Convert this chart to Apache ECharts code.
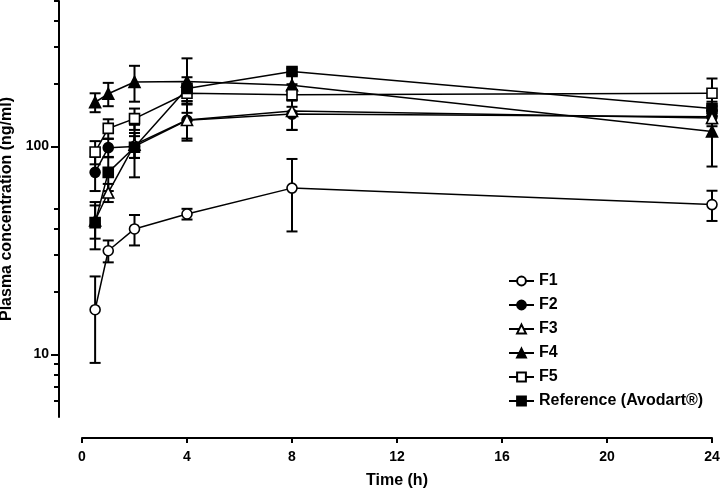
<!DOCTYPE html>
<html>
<head>
<meta charset="utf-8">
<script src="https://cdn.jsdelivr.net/npm/echarts@6/dist/echarts.min.js"></script>
<style>
html,body{margin:0;padding:0;background:#fff;}
#chart{width:722px;height:489px;}
</style>
</head>
<body>
<div id="chart"></div>
<script>
// ---- data ----
const times = [0.5, 1, 2, 4, 8, 24];
const f1 = [16.4, 31.5, 40.1, 47.3, 63, 52.5];
const f1Sd = [7.3, 3.8, 6.7, 2.8, 24, 8.7];
const f2 = [75, 98.6, 100, 133.5, 143, 139];
const f2Sd = [14, 10, 12, 27, 23, 10];
const f3 = [44, 60, 102, 134, 148, 137];
const f3Sd = [8, 6, 14, 25, 28, 12];
const f4 = [163, 179, 204, 205, 197, 118];
const f4Sd = [17, 23, 40, 60, 30, 38];
const f5 = [94, 122, 136, 180, 177, 180];
const f5Sd = [12, 13, 16, 15, 22, 32];
const ref = [43, 75, 99, 190, 229, 152];
const refSd = [11, 14, 28, 25, 8, 12];
const seriesNames = ['F1', 'F2', 'F3', 'F4', 'F5', 'Reference (Avodart\u00AE)'];
const yMajorTicks = [10, 100];
const yMinorTicks = [6, 7, 8, 9, 20, 30, 40, 50, 200, 300, 400, 500];

const FONT = 'Liberation Sans, Arial, sans-serif';
const styles = [
  {symbol: 'circle', fill: '#fff', size: 10},
  {symbol: 'circle', fill: '#000', size: 10},
  {symbol: 'triangle', fill: '#fff', size: 11},
  {symbol: 'triangle', fill: '#000', size: 11},
  {symbol: 'rect', fill: '#fff', size: 10},
  {symbol: 'rect', fill: '#000', size: 10}
];
const means = [f1, f2, f3, f4, f5, ref];
const sds = [f1Sd, f2Sd, f3Sd, f4Sd, f5Sd, refSd];

const series = [];
means.forEach((m, i) => {
  series.push({
    name: seriesNames[i] + ' SD',
    type: 'custom',
    z: 1,
    clip: false,
    data: times.map((t, j) => [t, m[j], sds[i][j]]),
    renderItem: function (params, api) {
      const x = api.value(0), y = api.value(1), s = api.value(2);
      const top = api.coord([x, y + s]);
      const lowV = Math.max(y - s, 5);
      const bot = api.coord([x, lowV]);
      const hw = 5.5;
      const st = {stroke: '#000', lineWidth: 2};
      const children = [
        {type: 'line', shape: {x1: top[0], y1: top[1], x2: bot[0], y2: bot[1]}, style: st},
        {type: 'line', shape: {x1: top[0] - hw, y1: top[1], x2: top[0] + hw, y2: top[1]}, style: st}
      ];
      if (y - s > 5) children.push({type: 'line', shape: {x1: bot[0] - hw, y1: bot[1], x2: bot[0] + hw, y2: bot[1]}, style: st});
      return {type: 'group', children: children};
    }
  });
});
means.forEach((m, i) => {
  series.push({
    name: seriesNames[i],
    type: 'line',
    z: 3,
    clip: false,
    symbol: styles[i].symbol,
    symbolSize: styles[i].size,
    showAllSymbol: true,
    data: times.map((t, j) => [t, m[j]]),
    lineStyle: {color: '#000', width: 1.5},
    itemStyle: {color: styles[i].fill, borderColor: '#000', borderWidth: 1.6, opacity: 1},
    emphasis: {disabled: true},
    animation: false
  });
});

const chart = echarts.init(document.getElementById('chart'));
chart.setOption({
  animation: false,
  backgroundColor: '#fff',
  grid: {left: 82, right: 10, top: 1, bottom: 72, outerBoundsMode: 'none', containLabel: false},
  legend: {
    data: seriesNames,
    orient: 'vertical',
    left: 503,
    top: 268,
    itemWidth: 25,
    itemHeight: 11,
    itemGap: 8,
    textStyle: {fontFamily: FONT, fontWeight: 'bold', fontSize: 16, color: '#000'},
    selectedMode: false
  },
  xAxis: {
    type: 'value', min: 0, max: 24, interval: 4, offset: 21,
    name: 'Time (h)', nameLocation: 'middle', nameGap: 35,
    nameTextStyle: {fontFamily: FONT, fontWeight: 'bold', fontSize: 16, color: '#000'},
    axisLine: {show: true, onZero: false, lineStyle: {color: '#000', width: 2}},
    axisTick: {show: true, length: 5, lineStyle: {color: '#000', width: 2}},
    axisLabel: {color: '#000', fontFamily: FONT, fontWeight: 'bold', fontSize: 14, margin: 12},
    splitLine: {show: false}
  },
  yAxis: [{
    type: 'log', logBase: 10, min: 5, max: 500, offset: 23, position: 'left',
    name: 'Plasma concentration (ng/ml)', nameLocation: 'middle', nameGap: 41,
    nameTextStyle: {fontFamily: FONT, fontWeight: 'bold', fontSize: 16, color: '#000'},
    axisLine: {show: true, onZero: false, lineStyle: {color: '#000', width: 2}},
    axisTick: {show: true, length: 8, customValues: yMajorTicks, lineStyle: {color: '#000', width: 2}},
    axisLabel: {color: '#000', fontFamily: FONT, fontWeight: 'bold', fontSize: 14, margin: 10, customValues: yMajorTicks},
    splitLine: {show: false},
    minorTick: {show: false}
  }, {
    type: 'log', logBase: 10, min: 5, max: 500, offset: 23, position: 'left',
    axisLine: {show: false, onZero: false},
    axisTick: {show: true, length: 5, customValues: yMinorTicks, lineStyle: {color: '#000', width: 2}},
    axisLabel: {show: false},
    splitLine: {show: false}
  }],
  series: series
});
</script>
</body>
</html>
